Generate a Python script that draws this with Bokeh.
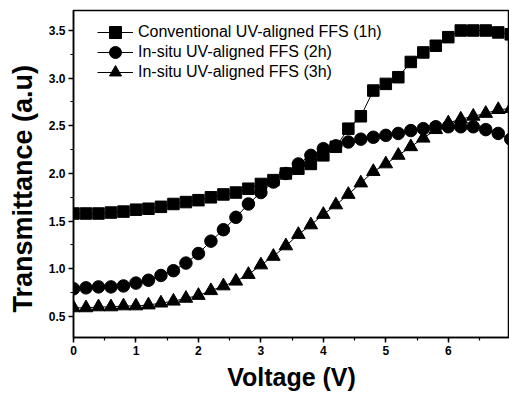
from bokeh.plotting import figure
from bokeh.models import Range1d, Legend, LegendItem, Title, SingleIntervalTicker, PrintfTickFormatter
from bokeh.embed import file_html
from bokeh.resources import INLINE

# Data
voltage = [0.0, 0.2, 0.4, 0.6, 0.8, 1.0, 1.2, 1.4, 1.6, 1.8,
           2.0, 2.2, 2.4, 2.6, 2.8, 3.0, 3.2, 3.4, 3.6, 3.8,
           4.0, 4.2, 4.4, 4.6, 4.8, 5.0, 5.2, 5.4, 5.6, 5.8,
           6.0, 6.2, 6.4, 6.6, 6.8, 7.0]
t_conv_1h = [1.58, 1.58, 1.58, 1.59, 1.60, 1.62, 1.63, 1.65, 1.68, 1.70,
             1.72, 1.75, 1.78, 1.80, 1.84, 1.89, 1.93, 2.00, 2.05, 2.10,
             2.19, 2.28, 2.47, 2.60, 2.87, 2.94, 3.01, 3.17, 3.27, 3.34,
             3.43, 3.50, 3.50, 3.50, 3.48, 3.46]
t_insitu_2h = [0.79, 0.80, 0.81, 0.81, 0.82, 0.85, 0.88, 0.93, 0.98, 1.06,
               1.16, 1.29, 1.41, 1.54, 1.68, 1.80, 1.91, 2.00, 2.10, 2.19,
               2.26, 2.29, 2.33, 2.36, 2.38, 2.40, 2.42, 2.45, 2.47, 2.49,
               2.49, 2.49, 2.49, 2.46, 2.42, 2.36]
t_insitu_3h = [0.59, 0.59, 0.60, 0.60, 0.61, 0.61, 0.62, 0.64, 0.66, 0.69,
               0.72, 0.77, 0.82, 0.87, 0.94, 1.04, 1.13, 1.24, 1.36, 1.46,
               1.57, 1.67, 1.78, 1.90, 2.02, 2.10, 2.19, 2.28, 2.37, 2.46,
               2.53, 2.57, 2.60, 2.63, 2.67, 2.68]

labels = ["Conventional UV-aligned FFS (1h)",
          "In-situ UV-aligned FFS (2h)",
          "In-situ UV-aligned FFS (3h)"]
x_title = "Voltage (V)"
y_title = "Transmittance (a.u)"

FONT = "Liberation Sans"

p = figure(width=509, height=396, output_backend="svg", toolbar_location=None,
           x_range=Range1d(0, 6.98), y_range=Range1d(0.279, 3.71),
           min_border_left=73, min_border_right=0, min_border_top=10, min_border_bottom=59)
p.background_fill_color = "white"
p.border_fill_color = "white"
p.outline_line_color = "black"
p.outline_line_width = 1.5
p.xgrid.visible = False
p.ygrid.visible = False

p.xaxis.ticker = SingleIntervalTicker(interval=1, num_minor_ticks=2)
p.yaxis.ticker = SingleIntervalTicker(interval=0.5, num_minor_ticks=2)
p.yaxis.formatter = PrintfTickFormatter(format="%.1f")
for ax in (p.xaxis, p.yaxis):
    ax.axis_line_color = "black"
    ax.axis_line_width = 1.5
    ax.major_tick_line_color = "black"
    ax.major_tick_line_width = 1.5
    ax.minor_tick_line_color = "black"
    ax.minor_tick_line_width = 1.2
    ax.major_tick_out = 5
    ax.major_tick_in = 0
    ax.minor_tick_out = 3
    ax.minor_tick_in = 0
    ax.major_label_text_font = FONT
    ax.major_label_text_font_style = "bold"
    ax.major_label_text_font_size = "12px"
    ax.major_label_text_color = "black"
    ax.major_label_standoff = 3

series = [t_conv_1h, t_insitu_2h, t_insitu_3h]
markers = ["square", "circle", "triangle"]
sizes = [11.5, 12.5, 13.5]
legend_y = [290, 270, 250]
for vals, mk, sz, lab, ly in zip(series, markers, sizes, labels, legend_y):
    ln = p.line(voltage, vals, line_color="black", line_width=1)
    sc = p.scatter(voltage, vals, marker=mk, size=sz, fill_color="black", line_color="black")
    leg = Legend(items=[LegendItem(label=lab, renderers=[ln, sc])], location=(24, ly),
                 glyph_width=36, glyph_height=30, label_height=30, spacing=0,
                 padding=0, margin=0, label_standoff=5,
                 border_line_alpha=0, background_fill_alpha=0,
                 label_text_font=FONT, label_text_font_size="16px", label_text_color="black")
    p.add_layout(leg, "center")

p.add_layout(Title(text=y_title, align="left", offset=25, vertical_align="top", standoff=12,
                   text_font=FONT, text_font_style="bold", text_font_size="27px",
                   text_color="black"), "left")
p.add_layout(Title(text=x_title, align="center", vertical_align="bottom", standoff=6,
                   text_font=FONT, text_font_style="bold", text_font_size="25px",
                   text_color="black"), "below")

open("out.html", "w").write(file_html(p, INLINE))
